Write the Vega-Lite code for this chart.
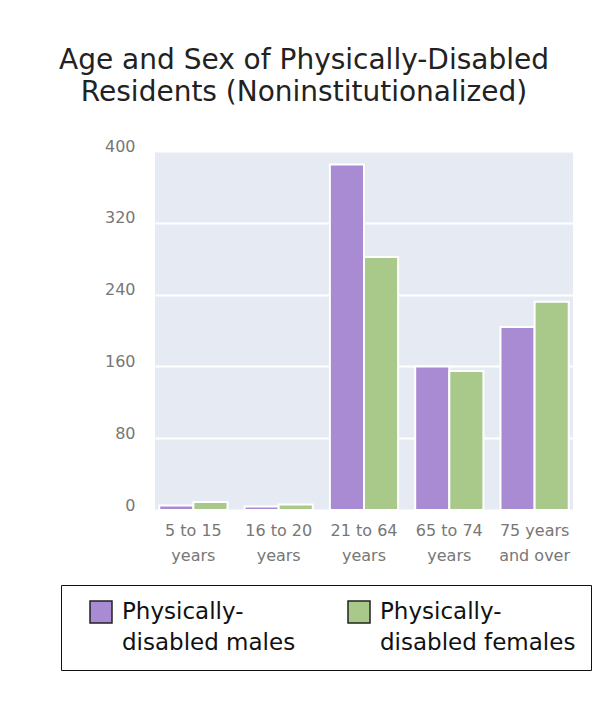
{
  "$schema": "https://vega.github.io/schema/vega-lite/v6.json",
  "width": 418,
  "height": 359,
  "autosize": {"type": "none"},
  "padding": {"left": 155, "top": 151, "right": 34, "bottom": 196},
  "background": "white",
  "title": {
    "text": ["Age and Sex of Physically-Disabled", "Residents (Noninstitutionalized)"],
    "font": "DejaVu Sans",
    "fontSize": 28,
    "fontWeight": "normal",
    "color": "#222222",
    "lineHeight": 32,
    "anchor": "middle",
    "dx": -60,
    "offset": 31
  },
  "data": {
    "values": [
      {"age": "5 to 15 years", "group": "Physically-disabled males", "count": 5},
      {"age": "5 to 15 years", "group": "Physically-disabled females", "count": 9},
      {"age": "16 to 20 years", "group": "Physically-disabled males", "count": 4},
      {"age": "16 to 20 years", "group": "Physically-disabled females", "count": 6},
      {"age": "21 to 64 years", "group": "Physically-disabled males", "count": 385},
      {"age": "21 to 64 years", "group": "Physically-disabled females", "count": 282},
      {"age": "65 to 74 years", "group": "Physically-disabled males", "count": 160},
      {"age": "65 to 74 years", "group": "Physically-disabled females", "count": 155},
      {"age": "75 years and over", "group": "Physically-disabled males", "count": 204},
      {"age": "75 years and over", "group": "Physically-disabled females", "count": 232}
    ]
  },
  "mark": {"type": "bar", "stroke": "white", "strokeWidth": 2},
  "encoding": {
    "x": {
      "field": "age",
      "type": "nominal",
      "sort": ["5 to 15 years", "16 to 20 years", "21 to 64 years", "65 to 74 years", "75 years and over"],
      "scale": {"paddingInner": 0.2, "paddingOuter": 0.05},
      "axis": {
        "title": null,
        "labelAngle": 0,
        "domain": false,
        "ticks": false,
        "labelFont": "DejaVu Sans",
        "labelFontSize": 16,
        "labelColor": "#777777",
        "labelLineHeight": 25,
        "labelPadding": 12,
        "labelLimit": 200,
        "labelExpr": "datum.value == '75 years and over' ? ['75 years', 'and over'] : [replace(datum.value, ' years', ''), 'years']"
      }
    },
    "xOffset": {
      "field": "group",
      "type": "nominal",
      "sort": ["Physically-disabled males", "Physically-disabled females"],
      "scale": {"paddingInner": 0}
    },
    "y": {
      "field": "count",
      "type": "quantitative",
      "scale": {"domain": [0, 400]},
      "axis": {
        "title": null,
        "values": [0, 80, 160, 240, 320, 400],
        "domain": false,
        "ticks": false,
        "grid": true,
        "gridColor": "white",
        "gridWidth": 2,
        "gridOpacity": 1,
        "labelFont": "DejaVu Sans",
        "labelFontSize": 16,
        "labelColor": "#777777",
        "labelPadding": 20,
        "labelOffset": -5
      }
    },
    "color": {
      "field": "group",
      "type": "nominal",
      "scale": {
        "domain": ["Physically-disabled males", "Physically-disabled females"],
        "range": ["#a98bd3", "#a8c98a"]
      },
      "legend": {
        "title": null,
        "orient": "none",
        "legendX": -94,
        "legendY": 434,
        "direction": "horizontal",
        "columns": 2,
        "columnPadding": 38,
        "padding": 15,
        "strokeColor": "#111111",
        "symbolType": "square",
        "symbolSize": 484,
        "symbolStrokeColor": "#222222",
        "symbolStrokeWidth": 1.5,
        "symbolOpacity": 1,
        "symbolOffset": 13,
        "labelOffset": 9,
        "labelFont": "DejaVu Sans",
        "labelFontSize": 23,
        "labelColor": "#111111",
        "labelLimit": 400,
        "labelExpr": "['Physically-', replace(datum.label, 'Physically-', '')]"
      }
    }
  },
  "config": {
    "view": {"fill": "#e5eaf3", "stroke": null},
    "style": {"guide-label": {"lineHeight": 31}}
  }
}
